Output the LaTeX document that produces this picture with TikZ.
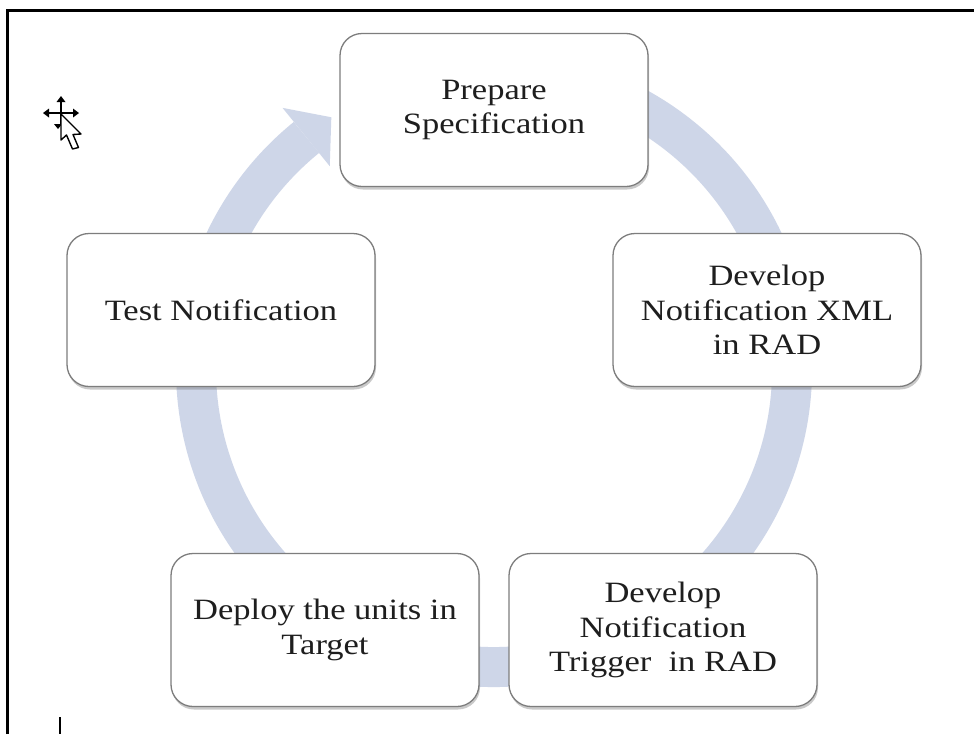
\documentclass[tikz,border=0pt]{standalone}
\usepackage{fontspec}
\setmainfont[FakeStretch=1.17]{Liberation Serif}
\usetikzlibrary{shadows,calc}
\definecolor{bandcol}{RGB}{206,214,232}
\definecolor{boxline}{RGB}{125,125,125}
\definecolor{txt}{RGB}{30,30,30}
\tikzset{
  stepbox/.style={draw=boxline, line width=1.3pt, fill=white, rounded corners=22pt,
    minimum width=308pt, minimum height=153pt, align=center, text=txt,
    font=\fontsize{29.5}{34.5}\selectfont,
    drop shadow={opacity=0.35, shadow xshift=1pt, shadow yshift=-3pt, fill=black!60}},
  band/.style={draw=bandcol, line width=40pt},
  cursorline/.style={draw=black, line width=1.4pt, line join=round},
}
\begin{document}
\begin{tikzpicture}[x=1pt,y=-1pt]
\useasboundingbox (0,0) rectangle (974,734);
\fill[white] (0,0) rectangle (974,734);
% frame
\draw[line width=3pt] (7.5,734) -- (7.5,10) -- (974,10);
% cycle band
\coordinate (c) at (494,369);
\draw[band] ($(c)+(-100:298)$) arc[start angle=-100, end angle=231, radius=298];
\fill[bandcol] ($(c)+(-129:336)$) -- ($(c)+(-129:261)$) -- ($(c)+(-129:298)+(-39:32)$) -- cycle;
% boxes
\node[stepbox] (prep) at (494,110) {Prepare\\Specification};
\node[stepbox] (xml) at (767,310) {Develop\\Notification XML\\in RAD};
\node[stepbox] (test) at (221,310) {Test Notification};
\node[stepbox] (trig) at (663,630) {Develop\\Notification\\Trigger~ in RAD};
\node[stepbox] (depl) at (325,630) {Deploy the units in\\Target};
% move cursor
\draw[line width=1.2pt] (61,101) -- (61,125);
\draw[line width=1.2pt] (47,113) -- (75,113);
\fill (61,96) -- (56.5,102) -- (65.5,102) -- cycle;
\fill (43,113) -- (49,108.5) -- (49,117.5) -- cycle;
\fill (79,113) -- (73,108.5) -- (73,117.5) -- cycle;
\fill (58,129) -- (54,124) -- (62,124) -- cycle;
\filldraw[fill=white, cursorline] (61,114) -- (61,140) -- (66.5,135) -- (72.5,149) -- (78.5,147.5) -- (73,134.5) -- (81,134) -- cycle;
% text cursor
\draw[line width=2.5pt] (60,717) -- (60,734);
\end{tikzpicture}
\end{document}
